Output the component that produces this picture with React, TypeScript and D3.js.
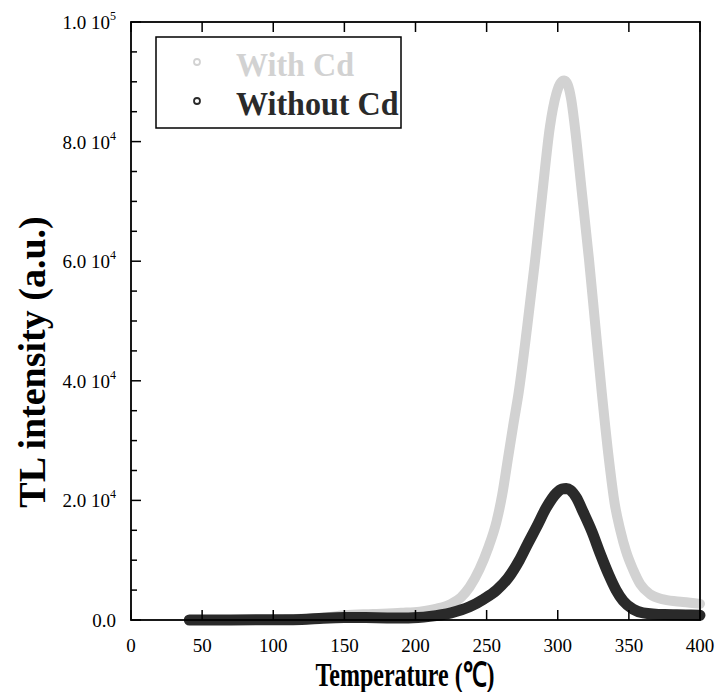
import React, { useRef, useEffect } from "react";
import * as d3 from "d3";

// With Cd (light grey) - temperature in C, TL in a.u.
const withCdTemp = [108, 120, 133, 150, 170, 190, 203, 215, 225, 232, 238, 245, 251, 257, 261, 265, 269, 272.5, 278.5, 284, 289, 294.5, 299, 302, 304.5, 307, 309.5, 312, 317, 322, 326.5, 331, 336, 340, 344, 348, 353, 358, 365, 375, 388, 400];
const withCdTL = [100, 200, 330, 800, 1000, 1200, 1400, 1900, 2700, 3800, 5500, 8500, 12000, 16500, 21000, 27000, 33000, 38000, 49000, 60000, 71000, 82500, 88000, 89800, 90200, 89500, 87000, 82500, 71400, 60200, 49000, 37900, 26800, 19500, 15000, 11500, 8400, 6000, 4300, 3400, 3000, 2700];

// Without Cd (dark)
const withoutCdTemp = [41, 70, 100, 120, 135, 150, 165, 180, 195, 210, 225, 238, 248, 257, 265, 273, 279, 285, 292, 299, 303, 306, 309, 313, 318, 324, 330, 336, 341, 346, 353, 360, 375, 390, 400];
const withoutCdTL = [0, 0, 50, 100, 300, 400, 400, 350, 350, 600, 1200, 2200, 3500, 5000, 7000, 10000, 12800, 15500, 18800, 21200, 21900, 22000, 21700, 20500, 18000, 14800, 11000, 7500, 5000, 3200, 1800, 1200, 900, 850, 800];

const xTicks = [0, 50, 100, 150, 200, 250, 300, 350, 400];
const yMajor = [0, 20000, 40000, 60000, 80000, 100000];
const yMantissa = ["0.0", "2.0", "4.0", "6.0", "8.0", "1.0"];
const yExponent = ["", "4", "4", "4", "4", "5"];
const seriesNames = ["With Cd", "Without Cd"];
const seriesColors = ["#d2d2d2", "#2a2a2a"];

const W = 718;
const H = 692;
const FONT = "'Liberation Serif', 'Times New Roman', serif";

const App = () => {
  const ref = useRef<SVGSVGElement>(null);

  useEffect(() => {
    if (!ref.current) return;
    const svg = d3.select(ref.current);
    svg.selectAll("*").remove();

    const x = d3.scaleLinear().domain([0, 400]).range([131, 700]);
    const y = d3.scaleLinear().domain([0, 100000]).range([620, 22]);

    const line = d3
      .line<[number, number]>()
      .x((d) => x(d[0]))
      .y((d) => y(d[1]))
      .curve(d3.curveMonotoneX);

    const g = svg.append("g");

    // curves
    const series = [
      { t: withCdTemp, v: withCdTL, w: 10 },
      { t: withoutCdTemp, v: withoutCdTL, w: 11 },
    ];
    series.forEach((s, i) => {
      const pts = s.t.map((t, j) => [t, s.v[j]] as [number, number]);
      g.append("path")
        .attr("d", line(pts))
        .attr("fill", "none")
        .attr("stroke", seriesColors[i])
        .attr("stroke-width", s.w)
        .attr("stroke-linecap", "round")
        .attr("stroke-linejoin", "round");
    });

    // frame
    g.append("rect")
      .attr("x", x(0))
      .attr("y", y(100000))
      .attr("width", x(400) - x(0))
      .attr("height", y(0) - y(100000))
      .attr("fill", "none")
      .attr("stroke", "#000")
      .attr("stroke-width", 1.8);

    // x ticks bottom + top (inward)
    xTicks.forEach((t) => {
      g.append("line")
        .attr("x1", x(t)).attr("x2", x(t))
        .attr("y1", y(0)).attr("y2", y(0) - 10)
        .attr("stroke", "#000").attr("stroke-width", 1.5);
      g.append("line")
        .attr("x1", x(t)).attr("x2", x(t))
        .attr("y1", y(100000)).attr("y2", y(100000) + 10)
        .attr("stroke", "#000").attr("stroke-width", 1.5);
      g.append("text")
        .attr("x", x(t))
        .attr("y", 652)
        .attr("text-anchor", "middle")
        .attr("font-family", FONT)
        .attr("font-size", 19)
        .text(t);
    });

    // y ticks left, minor every 5000
    d3.range(0, 100001, 5000).forEach((v) => {
      const major = v % 20000 === 0;
      g.append("line")
        .attr("x1", x(0)).attr("x2", x(0) + (major ? 10 : 6))
        .attr("y1", y(v)).attr("y2", y(v))
        .attr("stroke", "#000").attr("stroke-width", 1.5);
    });

    yMajor.forEach((v, i) => {
      const txt = g.append("text")
        .attr("x", 116)
        .attr("y", y(v) + 7)
        .attr("text-anchor", "end")
        .attr("font-family", FONT)
        .attr("font-size", 19);
      if (yExponent[i]) {
        txt.append("tspan").text(yMantissa[i] + " 10");
        txt.append("tspan").attr("dy", -9).attr("font-size", 12).text(yExponent[i]);
      } else {
        txt.text(yMantissa[i]);
      }
    });

    // axis titles (the original looks stretched vertically)
    g.append("text")
      .attr("transform", "translate(405,686) scale(1,1.4)")
      .attr("text-anchor", "middle")
      .attr("font-family", FONT)
      .attr("font-weight", "bold")
      .attr("font-size", 24)
      .text("Temperature (℃)");

    g.append("text")
      .attr("transform", "translate(45,362) rotate(-90)")
      .attr("text-anchor", "middle")
      .attr("font-family", FONT)
      .attr("font-weight", "bold")
      .attr("font-size", 38)
      .text("TL intensity (a.u.)");

    // legend
    g.append("rect")
      .attr("x", 156).attr("y", 37)
      .attr("width", 245).attr("height", 91)
      .attr("fill", "#fff")
      .attr("stroke", "#000")
      .attr("stroke-width", 1.5);

    seriesNames.forEach((name, i) => {
      const cy = 62 + i * 39;
      g.append("circle")
        .attr("cx", 197).attr("cy", cy).attr("r", 3)
        .attr("fill", "none")
        .attr("stroke", seriesColors[i])
        .attr("stroke-width", 1.8);
      g.append("text")
        .attr("transform", `translate(236,${cy + 14}) scale(1.07,1.12)`)
        .attr("font-family", FONT)
        .attr("font-weight", "bold")
        .attr("font-size", 30)
        .attr("fill", seriesColors[i])
        .text(name);
    });
  }, []);

  return (
    <svg
      ref={ref}
      width={W}
      height={H}
      style={{ position: "absolute", left: 0, top: 0, background: "#fff" }}
    />
  );
};

export default App;
